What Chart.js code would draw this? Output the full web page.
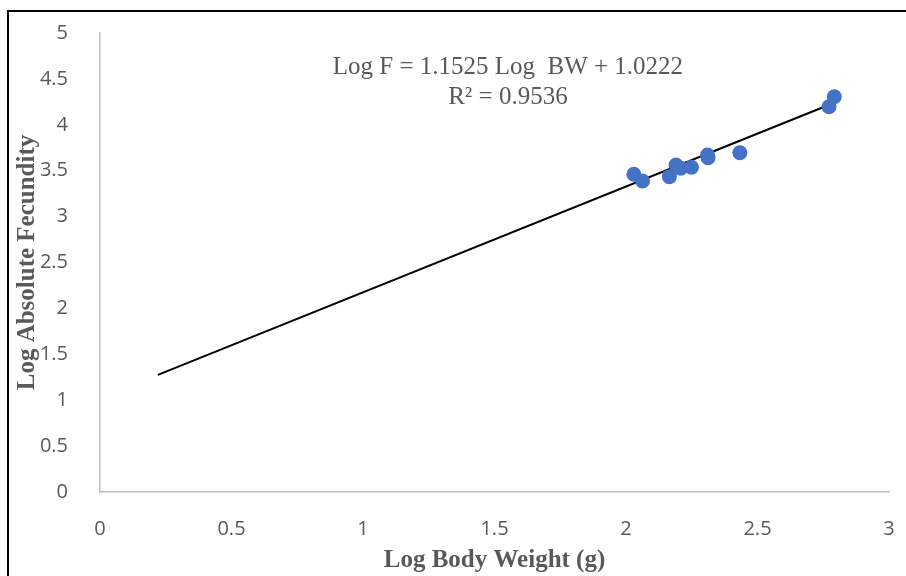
<!DOCTYPE html>
<html>
<head>
<meta charset="utf-8">
<script src="https://cdn.jsdelivr.net/npm/chart.js@4.4.0/dist/chart.umd.min.js"></script>
<style>
  html, body { margin: 0; padding: 0; background: #fff; }
  #wrap { width: 906px; height: 576px; position: relative; }
</style>
</head>
<body>
<div id="wrap"><canvas id="myChart" width="906" height="576"></canvas></div>
<script>
// measured points: log body weight vs log absolute fecundity
var bodyWeight = [2.03, 2.063, 2.165, 2.19, 2.208, 2.249, 2.31, 2.312, 2.433, 2.772, 2.792];
var fecundity  = [3.461, 3.388, 3.435, 3.562, 3.526, 3.537, 3.67, 3.642, 3.696, 4.197, 4.306];

// trendline from the fitted equation, drawn over the x-range shown
var slope = 1.1525;
var intercept = 1.0222;
var trendX = [0.22, 2.787];

var xTicks = [0, 0.5, 1, 1.5, 2, 2.5, 3];
var yTicks = [0, 0.5, 1, 1.5, 2, 2.5, 3, 3.5, 4, 4.5, 5];

var points = bodyWeight.map(function (x, i) { return {x: x, y: fecundity[i]}; });
var trend = trendX.map(function (x) { return {x: x, y: slope * x + intercept}; });

var serif = '"Liberation Serif", "Times New Roman", serif';

var frame = {
    id: 'frame',
    afterDraw: function (chart) {
        var c = chart.ctx;
        c.save();
        c.strokeStyle = '#000';
        c.lineWidth = 2;
        c.beginPath();
        c.moveTo(8, 576);
        c.lineTo(8, 11);
        c.lineTo(906, 11);
        c.stroke();

        // equation label
        var sx = chart.scales.x, sy = chart.scales.y;
        c.fillStyle = '#595959';
        c.font = '25px ' + serif;
        c.textAlign = 'center';
        c.textBaseline = 'middle';
        c.fillText('Log F = 1.1525 Log  BW + 1.0222', sx.getPixelForValue(1.551), sy.getPixelForValue(4.62));
        c.fillText('R\u00B2 = 0.9536', sx.getPixelForValue(1.551), sy.getPixelForValue(4.30));
        c.restore();
    }
};

function plain(v) { return String(v); }

var ctx = document.getElementById('myChart').getContext('2d');
var myChart = new Chart(ctx, {
    type: 'scatter',
    data: {
        datasets: [{
            label: 'Fecundity',
            data: points,
            backgroundColor: '#4472C4',
            borderWidth: 0,
            pointRadius: 7.5,
            pointHoverRadius: 7.5
        }, {
            label: 'Trend',
            data: trend,
            showLine: true,
            borderColor: '#000',
            borderWidth: 2,
            pointRadius: 0,
            fill: false
        }]
    },
    options: {
        responsive: false,
        animation: false,
        layout: { padding: { left: 0, right: 0, top: 33, bottom: 0 } },
        plugins: { legend: { display: false }, tooltip: { enabled: false } },
        scales: {
            x: {
                type: 'linear',
                min: 0, max: 3,
                afterBuildTicks: function (s) { s.ticks = xTicks.map(function (v) { return {value: v}; }); },
                afterFit: function (s) { s.height = 84; s.paddingLeft = 0; s.paddingRight = 17; },
                grid: { display: false },
                border: { display: true, color: '#bfbfbf', width: 1.5 },
                ticks: {
                    padding: 17,
                    color: '#595959',
                    callback: plain,
                    font: { family: '"Open Sans", sans-serif', size: 20 },
                    maxRotation: 0
                },
                title: {
                    display: true,
                    text: 'Log Body Weight (g)',
                    color: '#595959',
                    font: { family: serif, size: 25, weight: 'bold', lineHeight: 1 },
                    padding: { top: 0, bottom: 2.5 }
                }
            },
            y: {
                min: 0, max: 5,
                afterBuildTicks: function (s) { s.ticks = yTicks.map(function (v) { return {value: v}; }); },
                afterFit: function (s) { s.width = 100; s.paddingTop = 0; s.paddingBottom = 0; },
                grid: { display: false },
                border: { display: true, color: '#bfbfbf', width: 1.5 },
                ticks: {
                    padding: 24,
                    color: '#595959',
                    callback: plain,
                    font: { family: '"Open Sans", sans-serif', size: 20 }
                },
                title: {
                    display: true,
                    text: 'Log Absolute Fecundity',
                    color: '#595959',
                    font: { family: serif, size: 25, weight: 'bold', lineHeight: 1 },
                    padding: { top: 15.5, bottom: 0 }
                }
            }
        }
    },
    plugins: [frame]
});
</script>
</body>
</html>
